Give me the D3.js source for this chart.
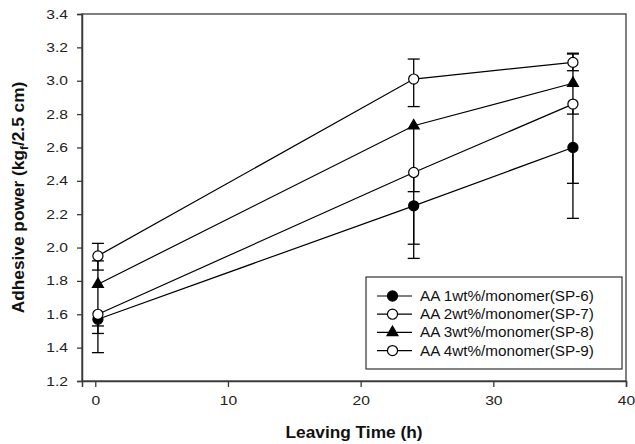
<!DOCTYPE html>
<html>
<head>
<meta charset="utf-8">
<script src="https://cdn.jsdelivr.net/npm/d3@7"></script>
<style>
  body { margin: 0; background: #fff; }
  svg { display: block; font-family: "Liberation Sans", Arial, sans-serif; }
</style>
</head>
<body>
<svg id="chart" width="635" height="444"></svg>
<script>
// leaving time in hours
const hours = [0.2, 24, 36];

const seriesNames = [
  'AA 1wt%/monomer(SP-6)',
  'AA 2wt%/monomer(SP-7)',
  'AA 3wt%/monomer(SP-8)',
  'AA 4wt%/monomer(SP-9)',
];

// adhesive power (kgf/2.5 cm)
const sp6 = [1.57, 2.25, 2.60];
const sp7 = [1.60, 2.45, 2.86];
const sp8 = [1.78, 2.73, 2.985];
const sp9 = [1.95, 3.01, 3.11];

// error bar ends (an end equal to the value has no cap)
const sp6Low = [1.37, 2.02, 2.175];
const sp6High = [1.57, 2.25, 2.60];
const sp7Low = [1.53, 1.935, 2.385];
const sp7High = [1.60, 2.45, 2.86];
const sp8Low = [1.485, 2.335, 2.80];
const sp8High = [1.92, 2.73, 3.165];
const sp9Low = [1.865, 2.845, 3.06];
const sp9High = [2.025, 3.13, 3.16];

const xTicks = [0, 10, 20, 30, 40];
const yTicks = [1.2, 1.4, 1.6, 1.8, 2.0, 2.2, 2.4, 2.6, 2.8, 3.0, 3.2, 3.4];

const series = [
  { name: seriesNames[0], values: sp6, low: sp6Low, high: sp6High, symbol: 'circle', fill: '#000' },
  { name: seriesNames[1], values: sp7, low: sp7Low, high: sp7High, symbol: 'circle', fill: '#fff' },
  { name: seriesNames[2], values: sp8, low: sp8Low, high: sp8High, symbol: 'triangle', fill: '#000' },
  { name: seriesNames[3], values: sp9, low: sp9Low, high: sp9High, symbol: 'circle', fill: '#fff' },
];

const margin = { top: 14, right: 9, bottom: 63, left: 82 };
const svg = d3.select('#chart');
const width = 635 - margin.left - margin.right;
const height = 444 - margin.top - margin.bottom;
const g = svg.append('g').attr('transform', `translate(${margin.left},${margin.top})`);

const x = d3.scaleLinear().domain([-1, 40]).range([0, width]);
const y = d3.scaleLinear().domain([1.2, 3.4]).range([height, 0]);

const axisColor = '#3a3a3a';

// the original glyphs are wider than Arial; stretch each text along its run
const widen = (sel, factor) => sel.each(function() {
  const w = this.getComputedTextLength();
  d3.select(this)
      .attr('textLength', w * factor)
      .attr('lengthAdjust', 'spacingAndGlyphs');
});

// frame
g.append('rect')
    .attr('width', width)
    .attr('height', height)
    .attr('fill', 'none')
    .attr('stroke', '#555')
    .attr('stroke-width', 1.5);

const xAxis = g.append('g')
    .attr('transform', `translate(0,${height})`)
    .call(d3.axisBottom(x).tickValues(xTicks).tickSize(6).tickPadding(9).tickFormat(d3.format('d')));

const yAxis = g.append('g')
    .call(d3.axisLeft(y).tickValues(yTicks).tickSize(5).tickPadding(9).tickFormat(d3.format('.1f')));

[xAxis, yAxis].forEach(a => {
  a.select('.domain').attr('stroke', axisColor).attr('stroke-width', 1.5);
  a.selectAll('.tick line').attr('stroke', axisColor).attr('stroke-width', 1.3);
  a.selectAll('.tick text')
      .attr('fill', '#222')
      .style('font-size', '12.5px')
      .style('font-family', '"Liberation Sans", Arial, sans-serif');
  widen(a.selectAll('.tick text'), 1.25);
});

// axis titles
const xTitle = svg.append('text')
    .attr('x', margin.left + x(19.5))
    .attr('y', 438)
    .attr('text-anchor', 'middle')
    .style('font-size', '16px')
    .style('font-weight', 'bold')
    .attr('fill', '#111')
    .text('Leaving Time (h)');
widen(xTitle, 1.08);

const yTitle = svg.append('text')
    .attr('transform', `translate(24,${margin.top + height / 2}) rotate(-90)`)
    .attr('text-anchor', 'middle')
    .style('font-size', '16px')
    .style('font-weight', 'bold')
    .attr('fill', '#111');
yTitle.append('tspan').text('Adhesive power (kg');
yTitle.append('tspan').attr('dy', 4).style('font-size', '11px').text('f');
yTitle.append('tspan').attr('dy', -4).text('/2.5 cm)');
widen(yTitle, 1.08);

const line = d3.line()
    .x((d, i) => x(hours[i]))
    .y(d => y(d));

const capHalf = 6;

// error bars
series.forEach(s => {
  const eb = g.append('g').attr('stroke', '#000').attr('stroke-width', 1.3);
  hours.forEach((h, i) => {
    const cx = x(h);
    eb.append('line')
        .attr('x1', cx).attr('x2', cx)
        .attr('y1', y(s.low[i])).attr('y2', y(s.high[i]));
    [s.low[i], s.high[i]].filter(v => v !== s.values[i]).forEach(v => {
      eb.append('line')
          .attr('x1', cx - capHalf).attr('x2', cx + capHalf)
          .attr('y1', y(v)).attr('y2', y(v));
    });
  });
});

// lines
series.forEach(s => {
  g.append('path')
      .datum(s.values)
      .attr('fill', 'none')
      .attr('stroke', '#000')
      .attr('stroke-width', 1.2)
      .attr('d', line);
});

const symbolPath = s => s.symbol === 'triangle'
  ? d3.symbol(d3.symbolTriangle, 52)()
  : d3.symbol(d3.symbolCircle, 80)();

// markers
series.forEach(s => {
  g.selectAll(null)
      .data(s.values)
      .join('path')
      .attr('transform', (d, i) => `translate(${x(hours[i])},${y(d)})`)
      .attr('d', symbolPath(s))
      .attr('fill', s.fill)
      .attr('stroke', '#000')
      .attr('stroke-width', 1.2);
});

// legend
const legend = svg.append('g').attr('transform', 'translate(366,277)');
legend.append('rect')
    .attr('width', 256)
    .attr('height', 92)
    .attr('fill', '#fff')
    .attr('stroke', '#333')
    .attr('stroke-width', 1.2);

series.forEach((s, i) => {
  const row = legend.append('g').attr('transform', `translate(0,${19 + i * 18.2})`);
  row.append('line')
      .attr('x1', 11).attr('x2', 46)
      .attr('stroke', '#000')
      .attr('stroke-width', 1.2);
  row.append('path')
      .attr('transform', 'translate(26.5,0)')
      .attr('d', symbolPath(s))
      .attr('fill', s.fill)
      .attr('stroke', '#000')
      .attr('stroke-width', 1.2);
  const label = row.append('text')
      .attr('x', 54)
      .attr('y', 5)
      .style('font-size', '14px')
      .attr('fill', '#111')
      .text(s.name);
  widen(label, 1.09);
});
</script>
</body>
</html>
